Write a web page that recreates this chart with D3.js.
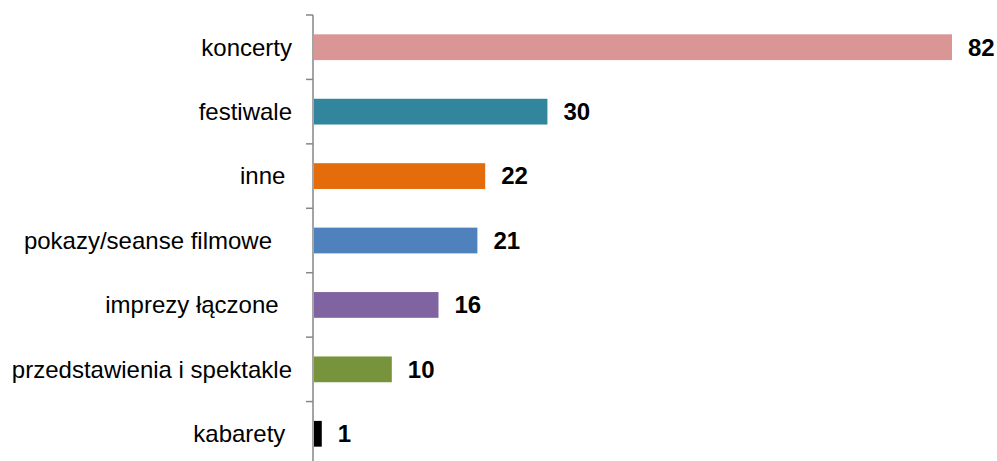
<!DOCTYPE html>
<html>
<head>
<meta charset="utf-8">
<script src="https://cdn.jsdelivr.net/npm/d3@7"></script>
<style>
  body { margin: 0; background: #fff; }
  svg text { font-family: "Liberation Sans", Arial, sans-serif; white-space: pre; }
</style>
</head>
<body>
<div id="chart"></div>
<script>
const categories = ["koncerty", "festiwale", "inne ", "pokazy/seanse filmowe   ", "imprezy łączone  ", "przedstawienia i spektakle", "kabarety "];
const values = [82, 30, 22, 21, 16, 10, 1];
const colors = ["#D99694", "#31859C", "#E46C0A", "#4F81BD", "#8064A2", "#77933C", "#000000"];

const width = 997, height = 461;

const svg = d3.select("#chart").append("svg")
    .attr("width", width)
    .attr("height", height);

const x = d3.scaleLinear()
    .domain([0, 82])
    .range([314, 952]);

const y = d3.scaleBand()
    .domain(categories)
    .range([15, 466])
    .paddingInner(0.6)
    .paddingOuter(0.3);

const step = y.step();

// axis line + ticks at category boundaries
svg.append("line")
    .attr("x1", 313).attr("x2", 313)
    .attr("y1", 15).attr("y2", height)
    .attr("stroke", "#868686")
    .attr("stroke-width", 1.5);

svg.selectAll(".tick")
    .data(d3.range(categories.length))
    .enter().append("line")
    .attr("class", "tick")
    .attr("x1", 306).attr("x2", 313)
    .attr("y1", i => 15 + i * step)
    .attr("y2", i => 15 + i * step)
    .attr("stroke", "#868686")
    .attr("stroke-width", 1.5);

svg.selectAll(".bar")
    .data(categories)
    .enter().append("rect")
    .attr("class", "bar")
    .attr("x", x(0))
    .attr("y", d => y(d))
    .attr("width", (d, i) => x(values[i]) - x(0))
    .attr("height", y.bandwidth())
    .attr("fill", (d, i) => colors[i]);

svg.selectAll(".cat")
    .data(categories)
    .enter().append("text")
    .attr("class", "cat")
    .attr("x", 292)
    .attr("y", d => y(d) + y.bandwidth() / 2)
    .attr("dy", "0.35em")
    .attr("text-anchor", "end")
    .style("font-size", "24px")
    .style("fill", "#000")
    .text(d => d);

svg.selectAll(".val")
    .data(categories)
    .enter().append("text")
    .attr("class", "val")
    .attr("x", (d, i) => x(values[i]) + 16)
    .attr("y", d => y(d) + y.bandwidth() / 2)
    .attr("dy", "0.35em")
    .style("font-size", "24px")
    .style("font-weight", "bold")
    .style("fill", "#000")
    .text((d, i) => values[i]);
</script>
</body>
</html>
